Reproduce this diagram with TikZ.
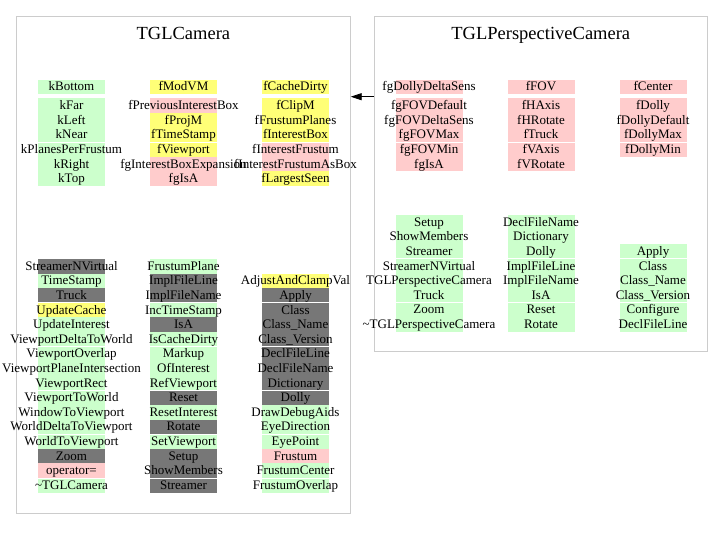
\documentclass[tikz,border=0pt]{standalone}
\usepackage{fontspec}
\setmainfont{Liberation Serif}
\usetikzlibrary{arrows.meta}
\definecolor{cg}{HTML}{CCFFCC}
\definecolor{cy}{HTML}{FFFF77}
\definecolor{cp}{HTML}{FFCCCC}
\definecolor{cd}{HTML}{777777}
\tikzset{
  frame/.style={draw=gray!40, line width=0.8pt, inner sep=0pt},
  title/.style={font=\fontsize{18.5}{20}\selectfont, inner sep=0pt},
  member/.style={font=\fontsize{13}{14}\selectfont, inner sep=0pt, text height=8pt, text depth=0pt},
  cell/.style={fill=#1, minimum width=67pt, minimum height=14.6pt, inner sep=0pt, outer sep=0pt},
  sep/.style={white, line width=0.8pt},
  inherit/.style={line width=0.9pt, -{Triangle[length=11pt,width=7pt]}}
}
\begin{document}
\begin{tikzpicture}[x=1pt,y=-1pt]
\useasboundingbox (0,0) rectangle (723,540);
% class frames and titles
\node[frame, minimum width=333.8pt, minimum height=497.3pt] (cam) at (183.4,264.65) {};
\node[frame, minimum width=333pt, minimum height=335.7pt] (persp) at (540.8,183.85) {};
\node[title, anchor=base] (camt) at (183.4,40) {TGLCamera};
\node[title, anchor=base] (perspt) at (540.8,40) {TGLPerspectiveCamera};
% TGLCamera data members
\node[cell=cg, minimum height=14pt, label={[member]center:kBottom}] (a0) at (71.5,87) {};
\node[cell=cy, minimum height=14pt, label={[member]center:fModVM}] (b0) at (183.5,87) {};
\node[cell=cy, minimum height=14pt, label={[member]center:fCacheDirty}] (c0) at (295.5,87) {};
\foreach \mbr/\clr [count=\i] in {kFar/cg,kLeft/cg,kNear/cg,kPlanesPerFrustum/cg,kRight/cg,kTop/cg}
  \node[cell=\clr, label={[member]center:\mbr}] (a\i) at (71.5,{91.2+14.6*\i}) {};
\foreach \mbr/\clr [count=\i] in {fPreviousInterestBox/cp,fProjM/cy,fTimeStamp/cy,fViewport/cy,fgInterestBoxExpansion/cp,fgIsA/cp}
  \node[cell=\clr, label={[member]center:\mbr}] (b\i) at (183.5,{91.2+14.6*\i}) {};
\foreach \mbr/\clr [count=\i] in {fClipM/cy,fFrustumPlanes/cy,fInterestBox/cy,fInterestFrustum/cp,fInterestFrustumAsBox/cp,fLargestSeen/cy}
  \node[cell=\clr, label={[member]center:\mbr}] (c\i) at (295.5,{91.2+14.6*\i}) {};
% TGLCamera methods
\foreach \mbr/\clr [count=\i] in {StreamerNVirtual/cd,TimeStamp/cg,Truck/cd,UpdateCache/cy,UpdateInterest/cg,ViewportDeltaToWorld/cg,ViewportOverlap/cg,ViewportPlaneIntersection/cg,ViewportRect/cg,ViewportToWorld/cg,WindowToViewport/cg,WorldDeltaToViewport/cg,WorldToViewport/cg,Zoom/cd,operator=/cp,\textasciitilde TGLCamera/cg}
  \node[cell=\clr, label={[member]center:\mbr}] (d\i) at (71.5,{251.7+14.6*\i}) {};
\foreach \mbr/\clr [count=\i] in {FrustumPlane/cg,ImplFileLine/cd,ImplFileName/cd,IncTimeStamp/cg,IsA/cd,IsCacheDirty/cg,Markup/cg,OfInterest/cg,RefViewport/cg,Reset/cd,ResetInterest/cg,Rotate/cd,SetViewport/cg,Setup/cd,ShowMembers/cd,Streamer/cd}
  \node[cell=\clr, label={[member]center:\mbr}] (e\i) at (183.5,{251.7+14.6*\i}) {};
\foreach \mbr/\clr [count=\i] in {AdjustAndClampVal/cy,Apply/cd,Class/cd,Class\_Name/cd,Class\_Version/cd,DeclFileLine/cd,DeclFileName/cd,Dictionary/cd,Dolly/cd,DrawDebugAids/cg,EyeDirection/cg,EyePoint/cg,Frustum/cp,FrustumCenter/cg,FrustumOverlap/cg}
  \node[cell=\clr, label={[member]center:\mbr}] (f\i) at (295.5,{266.3+14.6*\i}) {};
% TGLPerspectiveCamera data members
\node[cell=cp, minimum height=14pt, label={[member]center:fgDollyDeltaSens}] (g0) at (429,87) {};
\node[cell=cp, minimum height=14pt, label={[member]center:fFOV}] (h0) at (541,87) {};
\node[cell=cp, minimum height=14pt, label={[member]center:fCenter}] (k0) at (653,87) {};
\foreach \mbr [count=\i] in {fgFOVDefault,fgFOVDeltaSens,fgFOVMax,fgFOVMin,fgIsA}
  \node[cell=cp, label={[member]center:\mbr}] (g\i) at (429,{91.2+14.6*\i}) {};
\foreach \mbr [count=\i] in {fHAxis,fHRotate,fTruck,fVAxis,fVRotate}
  \node[cell=cp, label={[member]center:\mbr}] (h\i) at (541,{91.2+14.6*\i}) {};
\foreach \mbr [count=\i] in {fDolly,fDollyDefault,fDollyMax,fDollyMin}
  \node[cell=cp, label={[member]center:\mbr}] (k\i) at (653,{91.2+14.6*\i}) {};
% TGLPerspectiveCamera methods
\foreach \mbr [count=\i] in {Setup,ShowMembers,Streamer,StreamerNVirtual,TGLPerspectiveCamera,Truck,Zoom,\textasciitilde TGLPerspectiveCamera}
  \node[cell=cg, label={[member]center:\mbr}] (m\i) at (429,{207.7+14.6*\i}) {};
\foreach \mbr [count=\i] in {DeclFileName,Dictionary,Dolly,ImplFileLine,ImplFileName,IsA,Reset,Rotate}
  \node[cell=cg, label={[member]center:\mbr}] (n\i) at (541,{207.7+14.6*\i}) {};
\foreach \mbr [count=\i] in {Apply,Class,Class\_Name,Class\_Version,Configure,DeclFileLine}
  \node[cell=cg, label={[member]center:\mbr}] (p\i) at (653,{236.9+14.6*\i}) {};
% white gaps every third row
\foreach \x in {71.5,183.5,295.5,429,541,653}
  \draw[sep] ({\x-33.5},142.3) -- ({\x+33.5},142.3);
\foreach \x in {71.5,183.5,295.5}
  \foreach \y in {302.8,346.6,390.4,434.2,478}
    \draw[sep] ({\x-33.5},\y) -- ({\x+33.5},\y);
\foreach \x in {429,541,653}
  \foreach \y in {258.8,302.6}
    \draw[sep] ({\x-33.5},\y) -- ({\x+33.5},\y);
% inheritance
\coordinate (ar) at (0,96.7);
\draw[inherit] (persp.west |- ar) -- (cam.east |- ar);
\end{tikzpicture}
\end{document}
